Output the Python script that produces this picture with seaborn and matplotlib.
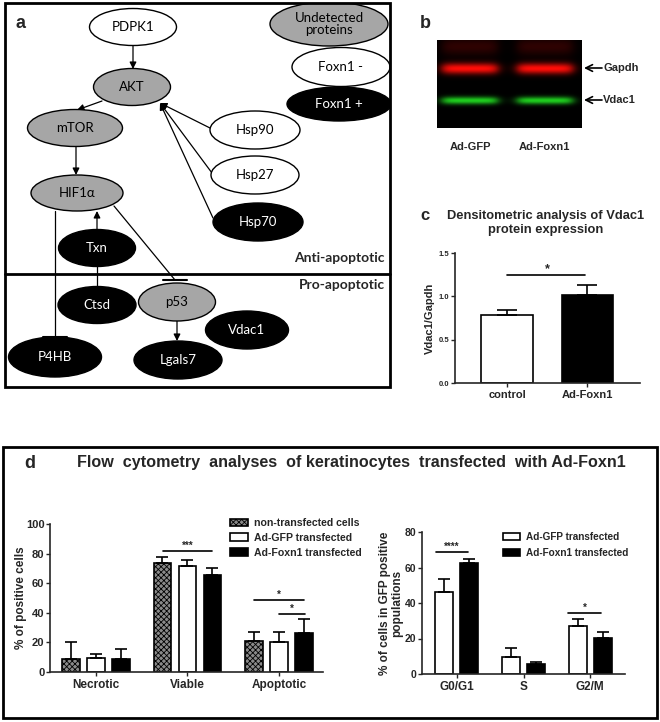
import numpy as np
import pandas as pd
import matplotlib
matplotlib.use('Agg')
import matplotlib.pyplot as plt
import seaborn as sns
from matplotlib.patches import Ellipse, Rectangle, Patch

W, H = 660, 722

# ---------------- data ----------------
# panel a : network nodes
node_names = ['PDPK1', 'AKT', 'mTOR', 'HIF1α', 'Hsp90', 'Hsp27', 'Hsp70', 'Txn',
              'Ctsd', 'p53', 'Vdac1', 'P4HB', 'Lgals7',
              'Undetected\nproteins', 'Foxn1 -', 'Foxn1 +']
node_kind = ['white', 'gray', 'gray', 'gray', 'white', 'white', 'black', 'black',
             'black', 'gray', 'black', 'black', 'black',
             'gray', 'white', 'black']

# panel b : blot labels
blot_lanes = ['Ad-GFP', 'Ad-Foxn1']
blot_bands = ['Gapdh', 'Vdac1']

# panel c : densitometry
dens_groups = ['control', 'Ad-Foxn1']
dens_mean = [0.78, 1.02]
dens_err = [0.06, 0.11]

# panel d left : % of positive cells
cell_states = ['Necrotic', 'Viable', 'Apoptotic']
treatments = ['non-transfected cells', 'Ad-GFP transfected', 'Ad-Foxn1 transfected']
nontr_mean = [8.8, 73.6, 20.9]
nontr_err = [11.5, 4.1, 6.1]
gfp_mean = [9.3, 71.6, 20.3]
gfp_err = [2.7, 4.4, 6.4]
foxn1_mean = [9.0, 65.5, 26.5]
foxn1_err = [6.7, 4.8, 9.0]

# panel d right : cell cycle
phases = ['G0/G1', 'S', 'G2/M']
gfp_tr = ['Ad-GFP transfected', 'Ad-Foxn1 transfected']
cyc_gfp_mean = [46.2, 9.6, 27.0]
cyc_gfp_err = [7.3, 5.0, 4.0]
cyc_foxn1_mean = [62.5, 5.6, 20.3]
cyc_foxn1_err = [2.3, 1.0, 3.4]

# ---------------- layout (pixels) ----------------
node_xy = [(133, 27), (132, 87), (75, 128), (77, 193), (255, 130), (255, 175),
           (258, 222), (97, 248), (97, 305), (177, 302), (247, 330), (55, 357),
           (178, 360), (329, 24), (341, 67), (339, 104)]
node_wh = [(87, 37), (77, 37), (95, 37), (92, 36), (90, 38), (88, 38), (90, 38),
           (77, 37), (78, 37), (77, 38), (83, 38), (93, 40), (88, 38),
           (118, 44), (98, 39), (104, 34)]
edges = [(133, 45, 133, 69, 'arrow'), (102, 101, 77, 110, 'arrow'),
         (76, 147, 76, 175, 'arrow'), (210, 128, 160, 103, 'arrow'),
         (212, 173, 160, 103, 'arrow'), (213, 218, 160, 103, 'arrow'),
         (97, 230, 97, 211, 'arrow'), (97, 287, 97, 266, 'line'),
         (55, 211, 55, 337, 'tbar'), (114, 206, 175, 280, 'tbar'),
         (177, 320, 177, 341, 'arrow')]

sns.set_style('ticks')
plt.rcParams['font.family'] = ['Liberation Sans', 'DejaVu Sans']
plt.rcParams['font.weight'] = 'bold'
plt.rcParams['hatch.linewidth'] = 0.6

fig = plt.figure(figsize=(W / 100, H / 100), dpi=100)


def px_axes(x0, y0, x1, y1):
    return fig.add_axes([x0 / W, 1 - y1 / H, (x1 - x0) / W, (y1 - y0) / H])


ov = fig.add_axes([0, 0, 1, 1])
ov.set_xlim(0, W)
ov.set_ylim(H, 0)
ov.axis('off')

# ---------------- panel a ----------------
boxa = Rectangle((5, 3), 385, 384, fill=False, lw=2, ec='black', zorder=6)
ov.add_patch(boxa)
ov.plot([5, 390], [274, 274], color='black', lw=2, zorder=6)
ov.text(20, 23, 'a', fontsize=13, fontweight='bold', va='center', ha='center')
ov.text(385, 258, 'Anti-apoptotic', fontsize=10, fontweight='bold', family='Lato',
        ha='right', va='center')
ov.text(385, 285, 'Pro-apoptotic', fontsize=10, fontweight='bold', family='Lato',
        ha='right', va='center')

fills = {'white': 'white', 'gray': '#a6a6a6', 'black': 'black'}
for name, kind, (cx, cy), (w, h) in zip(node_names, node_kind, node_xy, node_wh):
    e = Ellipse((cx, cy), w, h, fc=fills[kind], ec='black', lw=1, zorder=4)
    ov.add_patch(e)
    e.set_clip_path(boxa)
    t = ov.text(cx, cy, name, ha='center', va='center', fontsize=9.5, family='Lato',
                fontweight='normal', color='white' if kind == 'black' else 'black',
                zorder=5, linespacing=1.1)
    t.set_clip_path(boxa)

for x0, y0, x1, y1, kind in edges:
    if kind == 'arrow':
        ov.annotate('', xy=(x1, y1), xytext=(x0, y0), zorder=2,
                    arrowprops=dict(arrowstyle='-|>', color='black', lw=0.9,
                                    mutation_scale=10, shrinkA=0, shrinkB=0))
    else:
        ov.plot([x0, x1], [y0, y1], color='black', lw=0.9, zorder=2)
        if kind == 'tbar':
            ov.plot([x1 - 12, x1 + 12], [y1, y1], color='black', lw=1.5, zorder=2)

# ---------------- panel b ----------------
ov.text(425, 23, 'b', fontsize=13, fontweight='bold', va='center', ha='center')
bh, bw = 88, 145
yy = np.arange(bh)[:, None]
xx = np.arange(bw)[None, :]


def lane_profile(a, b):
    return 1 / (1 + np.exp(-(xx - a) / 3)) / (1 + np.exp((xx - b) / 3))


lanes = lane_profile(5, 60) + lane_profile(80, 135)
red = lanes * (np.exp(-((yy - 28) / 5.5) ** 2) + 0.18 * np.exp(-((yy - 6) / 9) ** 2))
green = lanes * 0.8 * np.exp(-((yy - 60) / 3.8) ** 2)
img = np.zeros((bh, bw, 3))
img[..., 0] = np.clip(red + 0.15 * green, 0, 1)
img[..., 1] = np.clip(green + 0.05 * red, 0, 1)
img[..., 2] = np.clip(0.15 * green + 0.03 * red, 0, 1)
ov.imshow(img, extent=(437, 582, 128, 40), aspect='auto', interpolation='bilinear')
ov.set_xlim(0, W)
ov.set_ylim(H, 0)
for band, by in zip(blot_bands, [68, 100]):
    ov.annotate('', xy=(584, by), xytext=(602, by),
                arrowprops=dict(arrowstyle='->', color='black', lw=1.2,
                                mutation_scale=12, shrinkA=0, shrinkB=0))
    ov.text(603, by, band, fontsize=8, fontweight='bold', va='center', ha='left')
for lane, lx in zip(blot_lanes, [470, 544]):
    ov.text(lx, 147, lane, fontsize=8, fontweight='bold', va='center', ha='center')

# ---------------- panel c ----------------
ov.text(425, 215, 'c', fontsize=12, fontweight='bold', va='center', ha='center')
ov.text(546, 223, 'Densitometric analysis of Vdac1\nprotein expression', fontsize=9.3,
        fontweight='bold', va='center', ha='center', linespacing=1.15)

axc = px_axes(455, 253, 640, 383)
axc.patch.set_alpha(0)
dfc = pd.DataFrame({'group': dens_groups, 'value': dens_mean})
sns.barplot(data=dfc, x='group', y='value', hue='group', palette=['white', 'black'],
            edgecolor='black', linewidth=1.2, width=0.64, errorbar=None, legend=False, ax=axc)
bars = [p for c in axc.containers for p in c]
xs = [b.get_x() + b.get_width() / 2 for b in bars]
axc.errorbar(xs, dens_mean, yerr=[np.zeros(2), dens_err], fmt='none', ecolor='black',
             elinewidth=1.2, capsize=7, capthick=1.2)
axc.plot([0, 0.97], [1.25, 1.25], color='black', lw=1.2)
axc.text(0.5, 1.31, '*', ha='center', va='center', fontsize=9, fontweight='bold')
axc.set_xlim(-0.65, 1.66)
axc.set_ylim(0, 1.5)
axc.set_yticks([0, 0.5, 1.0, 1.5])
axc.set_yticklabels(['0.0', '0.5', '1.0', '1.5'])
axc.set_xlabel('')
axc.set_ylabel('Vdac1/Gapdh', fontsize=8, fontweight='bold', labelpad=3)
axc.tick_params(axis='y', labelsize=5.5, length=3, width=1, pad=1)
axc.tick_params(axis='x', labelsize=8, length=3, width=1, pad=2)
sns.despine(ax=axc)
for s in ['left', 'bottom']:
    axc.spines[s].set_linewidth(1.2)

# ---------------- panel d ----------------
ov.add_patch(Rectangle((3, 447), 654, 271, fill=False, lw=2, ec='black'))
ov.text(30, 463, 'd', fontsize=13, fontweight='bold', va='center', ha='center')
ov.text(351, 463, 'Flow  cytometry  analyses  of keratinocytes  transfected  with Ad-Foxn1',
        fontsize=11.6, fontweight='bold', va='center', ha='center')

hatch_cols = {'non-transfected cells': '#8a8a8a', 'Ad-GFP transfected': 'white',
              'Ad-Foxn1 transfected': 'black'}
gray_hatch = 'xxxxxx'

# left chart
axl = px_axes(50, 524, 323, 672)
axl.patch.set_alpha(0)
dfl = pd.DataFrame({'state': cell_states * 3,
                    'treat': np.repeat(treatments, 3),
                    'value': nontr_mean + gfp_mean + foxn1_mean})
sns.barplot(data=dfl, x='state', y='value', hue='treat', hue_order=treatments,
            palette=hatch_cols, edgecolor='black', linewidth=1.2, width=0.82, gap=0.3,
            errorbar=None, legend=False, ax=axl)
for cont, errs in zip(axl.containers, [nontr_err, gfp_err, foxn1_err]):
    xs = [b.get_x() + b.get_width() / 2 for b in cont]
    hs = [b.get_height() for b in cont]
    axl.errorbar(xs, hs, yerr=[np.zeros(len(hs)), errs], fmt='none', ecolor='black',
                 elinewidth=1.2, capsize=4, capthick=1.2)
for b in axl.containers[0]:
    b.set_hatch(gray_hatch)
handles = [Patch(fc=hatch_cols[t], ec='black', lw=1.2, hatch=gray_hatch if i == 0 else None)
           for i, t in enumerate(treatments)]
axl.legend(handles, treatments, loc='upper left', bbox_to_anchor=(0.66, 1.04), frameon=False,
           prop={'size': 7.6, 'weight': 'bold'}, handlelength=1.7, handleheight=0.7,
           handletextpad=0.6, labelspacing=0.45, borderpad=0, borderaxespad=0)
for x0, x1, y, star in [(0.73, 1.27, 81.7, '***'), (1.73, 2.27, 48.6, '*'), (2.0, 2.28, 39, '*')]:
    axl.plot([x0, x1], [y, y], color='black', lw=1.2)
    axl.text((x0 + x1) / 2, y + 3.5, star, ha='center', va='center', fontsize=7, fontweight='bold')
axl.set_xlim(-0.5, 2.48)
axl.set_ylim(0, 100)
axl.set_yticks(range(0, 101, 20))
axl.set_xlabel('')
axl.set_ylabel('% of positive cells', fontsize=8.5, fontweight='bold', labelpad=-1)
axl.tick_params(axis='y', labelsize=8, length=3, width=1, pad=1)
axl.tick_params(axis='x', labelsize=8.5, length=3, width=1, pad=2)
sns.despine(ax=axl)
for s in ['left', 'bottom']:
    axl.spines[s].set_linewidth(1.2)

# right chart
axr = px_axes(422, 532, 625, 674)
axr.patch.set_alpha(0)
dfr = pd.DataFrame({'phase': phases * 2,
                    'treat': np.repeat(gfp_tr, 3),
                    'value': cyc_gfp_mean + cyc_foxn1_mean})
sns.barplot(data=dfr, x='phase', y='value', hue='treat', hue_order=gfp_tr,
            palette=['white', 'black'], edgecolor='black', linewidth=1.2, width=0.75, gap=0.28,
            errorbar=None, legend=False, ax=axr)
for cont, errs in zip(axr.containers, [cyc_gfp_err, cyc_foxn1_err]):
    xs = [b.get_x() + b.get_width() / 2 for b in cont]
    hs = [b.get_height() for b in cont]
    axr.errorbar(xs, hs, yerr=[np.zeros(len(hs)), errs], fmt='none', ecolor='black',
                 elinewidth=1.2, capsize=4, capthick=1.2)
handles = [Patch(fc=c, ec='black', lw=1.2) for c in ['white', 'black']]
axr.legend(handles, gfp_tr, loc='upper left', bbox_to_anchor=(0.4, 1.0), frameon=False,
           prop={'size': 7.2, 'weight': 'bold'}, handlelength=1.7, handleheight=0.7,
           handletextpad=0.6, labelspacing=0.55, borderpad=0, borderaxespad=0)
for x0, x1, y, star in [(-0.31, 0.17, 68.7, '****'), (1.67, 2.16, 34.4, '*')]:
    axr.plot([x0, x1], [y, y], color='black', lw=1.2)
    axr.text((x0 + x1) / 2, y + 3, star, ha='center', va='center', fontsize=7, fontweight='bold')
axr.set_xlim(-0.52, 2.52)
axr.set_ylim(0, 80)
axr.set_yticks(range(0, 81, 20))
axr.set_xlabel('')
axr.set_ylabel('% of cells in GFP positive\npopulations', fontsize=8.5, fontweight='bold',
               labelpad=1.5, linespacing=1.0)
axr.tick_params(axis='y', labelsize=7.5, length=3, width=1, pad=1)
axr.tick_params(axis='x', labelsize=8.5, length=3, width=1, pad=2)
sns.despine(ax=axr)
for s in ['left', 'bottom']:
    axr.spines[s].set_linewidth(1.2)

fig.savefig('out.png', dpi=100)
